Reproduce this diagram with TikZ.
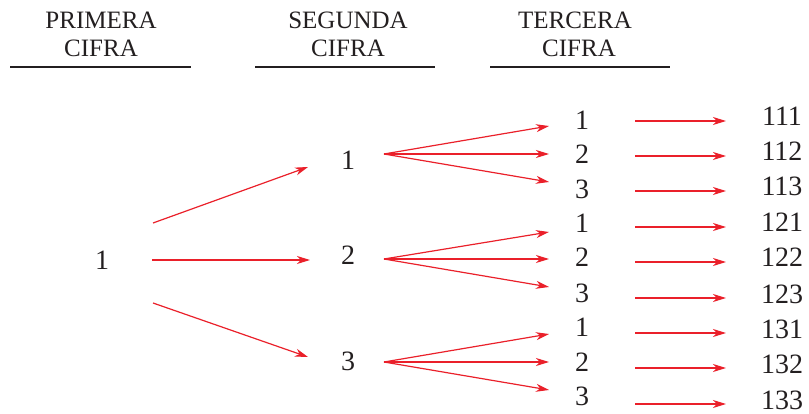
\documentclass[tikz,border=0pt]{standalone}
\usepackage{fontspec}
\setmainfont{Liberation Serif}
\usetikzlibrary{arrows.meta,calc}
\definecolor{arrred}{RGB}{234,32,42}
\definecolor{ink}{RGB}{35,31,32}
\tikzset{
  hdr/.style={anchor=base,inner sep=0pt,text=ink,font=\fontsize{25}{28}\selectfont},
  dig/.style={anchor=base,inner sep=0pt,text=ink,font=\fontsize{28}{32}\selectfont},
  arr/.style={draw=arrred,line width=1.2pt,-{Stealth[length=13pt,width=8pt,inset=4pt]}},
  rule/.style={draw=ink,line width=1.3pt}
}
\begin{document}
\begin{tikzpicture}[x=1pt,y=-1pt]
\useasboundingbox (0,0) rectangle (809,414);
% headers
\node[hdr] (h1a) at (101,29) {PRIMERA};
\node[hdr] (h1b) at (101,57) {CIFRA};
\node[hdr] (h2a) at (348,29) {SEGUNDA};
\node[hdr] (h2b) at (348,57) {CIFRA};
\node[hdr] (h3a) at (575,29) {TERCERA};
\node[hdr] (h3b) at (579,57) {CIFRA};
\draw[rule] (10,67) -- (191,67);
\draw[rule] (255,67) -- (435,67);
\draw[rule] (490,67) -- (670,67);
% first level
\node[dig] (l1) at (102,270) {1};
% second level
\node[dig] (m1) at (348,170) {1};
\node[dig] (m2) at (348,265) {2};
\node[dig] (m3) at (348,370) {3};
% third level
\node[dig] (t1) at (582,130) {1};
\node[dig] (t2) at (582,164) {2};
\node[dig] (t3) at (582,199) {3};
\node[dig] (t4) at (582,233) {1};
\node[dig] (t5) at (582,267) {2};
\node[dig] (t6) at (582,302) {3};
\node[dig] (t7) at (582,336) {1};
\node[dig] (t8) at (582,371) {2};
\node[dig] (t9) at (582,405) {3};
% results
\node[dig] (r1) at (782,126) {111};
\node[dig] (r2) at (782,161) {112};
\node[dig] (r3) at (782,196) {113};
\node[dig] (r4) at (782,232) {121};
\node[dig] (r5) at (782,267) {122};
\node[dig] (r6) at (782,303) {123};
\node[dig] (r7) at (782,338) {131};
\node[dig] (r8) at (782,373) {132};
\node[dig] (r9) at (782,409) {133};
% level 1 -> level 2
\draw[arr] ($(l1.base)+(51,-47)$) -- ($(m1.base)+(-40,-3)$);
\draw[arr] ($(l1.base)+(50,-10)$) -- ($(m2.base)+(-38,-5)$);
\draw[arr] ($(l1.base)+(51,33)$) -- ($(m3.base)+(-40,-13)$);
% level 2 -> level 3
\draw[arr] ($(m1.base)+(36,-16)$) -- ($(t1.base)+(-33,-4)$);
\draw[arr] ($(m1.base)+(36,-16)$) -- ($(t2.base)+(-33,-10)$);
\draw[arr] ($(m1.base)+(36,-16)$) -- ($(t3.base)+(-33,-17)$);
\draw[arr] ($(m2.base)+(36,-6)$) -- ($(t4.base)+(-33,-1)$);
\draw[arr] ($(m2.base)+(36,-6)$) -- ($(t5.base)+(-33,-8)$);
\draw[arr] ($(m2.base)+(36,-6)$) -- ($(t6.base)+(-33,-15)$);
\draw[arr] ($(m3.base)+(36,-8)$) -- ($(t7.base)+(-33,-2)$);
\draw[arr] ($(m3.base)+(36,-8)$) -- ($(t8.base)+(-33,-9)$);
\draw[arr] ($(m3.base)+(36,-8)$) -- ($(t9.base)+(-33,-15)$);
% level 3 -> results
\draw[arr] ($(t1.base)+(53,-9)$) -- ($(r1.base)+(-56,-5)$);
\draw[arr] ($(t2.base)+(53,-8)$) -- ($(r2.base)+(-56,-5)$);
\draw[arr] ($(t3.base)+(53,-8)$) -- ($(r3.base)+(-56,-5)$);
\draw[arr] ($(t4.base)+(53,-6)$) -- ($(r4.base)+(-56,-5)$);
\draw[arr] ($(t5.base)+(53,-5)$) -- ($(r5.base)+(-56,-5)$);
\draw[arr] ($(t6.base)+(53,-4)$) -- ($(r6.base)+(-56,-5)$);
\draw[arr] ($(t7.base)+(53,-3)$) -- ($(r7.base)+(-56,-5)$);
\draw[arr] ($(t8.base)+(53,-3)$) -- ($(r8.base)+(-56,-5)$);
\draw[arr] ($(t9.base)+(53,-1)$) -- ($(r9.base)+(-56,-5)$);
\end{tikzpicture}
\end{document}
